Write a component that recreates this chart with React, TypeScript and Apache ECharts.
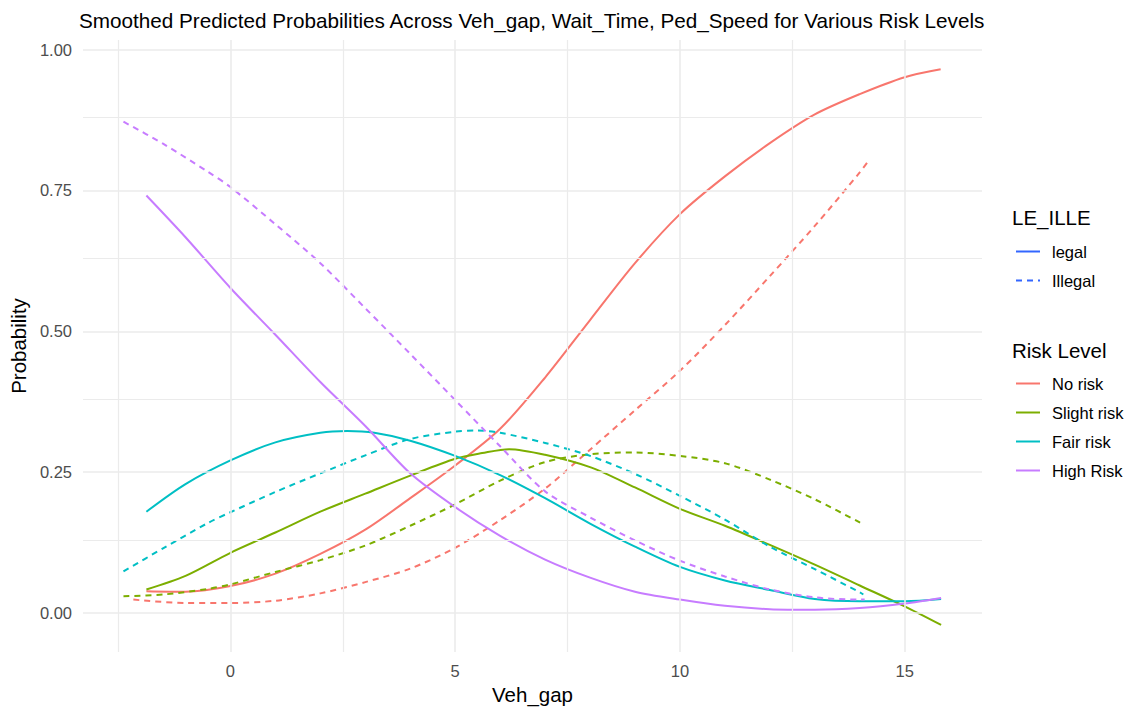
import React, { useEffect, useRef } from "react";
import * as echarts from "echarts";

// Smoothed predicted probabilities (loess-style curves) by vehicle gap.
// Each curve: [Veh_gap, probability] samples.
const noRiskLegal: [number, number][] = [
  [-1.87, 0.039], [-1, 0.038], [0, 0.048], [1, 0.07], [2, 0.105], [3, 0.148],
  [4, 0.204], [5, 0.262], [6, 0.327], [7, 0.418], [8, 0.52], [9, 0.621],
  [10, 0.708], [11, 0.775], [12, 0.834], [13, 0.885], [14, 0.921], [15, 0.951],
  [15.8, 0.965],
];
const noRiskIllegal: [number, number][] = [
  [-2.16, 0.024], [-1, 0.018], [0, 0.018], [1, 0.022], [2, 0.035], [3, 0.055],
  [4, 0.079], [5, 0.116], [6, 0.165], [7, 0.221], [8, 0.29], [9, 0.36],
  [10, 0.43], [11, 0.511], [12, 0.598], [13, 0.687], [14, 0.782], [14.17, 0.8],
];
const slightLegal: [number, number][] = [
  [-1.87, 0.042], [-1, 0.066], [0, 0.107], [1, 0.143], [2, 0.18], [3, 0.212],
  [4, 0.244], [5, 0.274], [5.6, 0.284], [6.2, 0.291], [7, 0.281], [8, 0.259],
  [9, 0.223], [10, 0.185], [11, 0.155], [12, 0.121], [13, 0.086], [14, 0.049],
  [15, 0.012], [15.81, -0.021],
];
const slightIllegal: [number, number][] = [
  [-2.38, 0.03], [-1.5, 0.033], [-0.5, 0.043], [0, 0.051], [1, 0.073], [2, 0.094],
  [3, 0.12], [4, 0.155], [5, 0.193], [6, 0.235], [7, 0.268], [8, 0.282],
  [9, 0.285], [10, 0.279], [11, 0.266], [12, 0.237], [13, 0.202], [14, 0.161],
  [14.08, 0.158],
];
const fairLegal: [number, number][] = [
  [-1.87, 0.18], [-1, 0.229], [0, 0.271], [1, 0.303], [2, 0.32], [2.6, 0.323],
  [3.2, 0.32], [4, 0.306], [5, 0.279], [6, 0.245], [7, 0.204], [8, 0.159],
  [9, 0.118], [10, 0.082], [11, 0.058], [12, 0.041], [13, 0.025], [14, 0.021],
  [15, 0.021], [15.81, 0.025],
];
const fairIllegal: [number, number][] = [
  [-2.38, 0.074], [-1.5, 0.115], [-0.5, 0.16], [0, 0.179], [1, 0.215], [2, 0.248],
  [3, 0.28], [4, 0.309], [5, 0.322], [5.5, 0.324], [6, 0.32], [7, 0.302],
  [8, 0.279], [9, 0.247], [10, 0.208], [11, 0.166], [12, 0.118], [13, 0.078],
  [14, 0.037], [14.08, 0.033],
];
const highLegal: [number, number][] = [
  [-1.87, 0.741], [-1, 0.667], [0, 0.577], [1, 0.494], [2, 0.41], [3, 0.332],
  [4, 0.248], [5, 0.188], [6, 0.137], [7, 0.095], [8, 0.063], [9, 0.038],
  [10, 0.024], [11, 0.013], [12, 0.007], [13, 0.006], [14, 0.009], [15, 0.017],
  [15.81, 0.027],
];
const highIllegal: [number, number][] = [
  [-2.38, 0.872], [-1.5, 0.833], [-0.5, 0.783], [0, 0.756], [1, 0.69], [2, 0.621],
  [3, 0.541], [4, 0.46], [5, 0.378], [6, 0.296], [7, 0.216], [8, 0.17],
  [9, 0.129], [10, 0.093], [11, 0.065], [12, 0.042], [13, 0.028], [14, 0.024],
  [14.11, 0.024],
];

const riskLevels = ["No risk", "Slight risk", "Fair risk", "High Risk"];
const legalityLevels = ["legal", "Illegal"];

const xTicks = [0, 5, 10, 15];
const xMinorGrid = [-2.5, 2.5, 7.5, 12.5];
const yTicks = [0, 0.25, 0.5, 0.75, 1];
const yMinorGrid = [0.125, 0.375, 0.625, 0.875];

const X_MIN = -3.28;
const X_MAX = 16.72;
const Y_MIN = -0.069;
const Y_MAX = 1.017;

const FONT = "'Liberation Sans', Arial, Helvetica, sans-serif";
const PALETTE = ["#F8766D", "#7CAE00", "#00BFC4", "#C77CFF"];
const LEGEND_BLUE = "#3366FF";
const DASH = [6, 5];

const curveSets: { risk: number; legal: boolean; data: [number, number][] }[] = [
  { risk: 0, legal: true, data: noRiskLegal },
  { risk: 0, legal: false, data: noRiskIllegal },
  { risk: 1, legal: true, data: slightLegal },
  { risk: 1, legal: false, data: slightIllegal },
  { risk: 2, legal: true, data: fairLegal },
  { risk: 2, legal: false, data: fairIllegal },
  { risk: 3, legal: true, data: highLegal },
  { risk: 3, legal: false, data: highIllegal },
];

export default function App() {
  const ref = useRef<HTMLDivElement>(null);

  useEffect(() => {
    if (!ref.current) return;
    const chart = echarts.init(ref.current, undefined, { renderer: "svg" });

    const gridSeries = (values: { xAxis?: number; yAxis?: number }[], width: number) => ({
      type: "line",
      data: [],
      silent: true,
      z: 1,
      markLine: {
        silent: true,
        animation: false,
        symbol: ["none", "none"],
        label: { show: false },
        emphasis: { disabled: true },
        lineStyle: { color: "#EBEBEB", width, type: "solid" },
        data: values,
      },
    });

    const curveSeries = curveSets.map((c) => ({
      name: `${riskLevels[c.risk]} (${c.legal ? "legal" : "Illegal"})`,
      type: "line",
      data: c.data,
      smooth: 0.3,
      symbol: "none",
      z: 3,
      lineStyle: {
        color: PALETTE[c.risk],
        width: 2,
        type: c.legal ? "solid" : DASH,
      },
      itemStyle: { color: PALETTE[c.risk] },
      emphasis: { disabled: true },
    }));

    const legalityKeys = legalityLevels.map((name, i) => ({
      name,
      type: "line",
      data: [],
      symbol: "none",
      lineStyle: { color: LEGEND_BLUE, width: 2, type: i === 0 ? "solid" : DASH },
      itemStyle: { color: LEGEND_BLUE },
    }));

    const riskKeys = riskLevels.map((name, i) => ({
      name,
      type: "line",
      data: [],
      symbol: "none",
      lineStyle: { color: PALETTE[i], width: 2, type: "solid" },
      itemStyle: { color: PALETTE[i] },
    }));

    const legendBase = {
      orient: "vertical",
      left: 1015,
      padding: 0,
      itemWidth: 24,
      itemHeight: 18,
      itemGap: 12,
      selectedMode: false,
      itemStyle: { opacity: 0 },
      textStyle: { fontFamily: FONT, fontSize: 16.5, color: "#000", padding: [0, 0, 0, 7] },
    };

    const titleStyle = { fontFamily: FONT, fontSize: 20.5, fontWeight: "normal", color: "#000" };

    chart.setOption({
      animation: false,
      backgroundColor: "#FFFFFF",
      title: [
        {
          text: "Smoothed Predicted Probabilities Across Veh_gap, Wait_Time, Ped_Speed for Various Risk Levels",
          left: 79,
          top: 10,
          padding: 0,
          textStyle: { ...titleStyle, fontSize: 20.7 },
        },
        { text: "LE_ILLE", left: 1012, top: 207, padding: 0, textStyle: titleStyle },
        { text: "Risk Level", left: 1012, top: 339.5, padding: 0, textStyle: titleStyle },
      ],
      legend: [
        {
          ...legendBase,
          top: 243,
          data: legalityLevels.map((name, i) => ({
            name,
            lineStyle: { color: LEGEND_BLUE, width: 2, type: i === 0 ? "solid" : DASH },
          })),
        },
        {
          ...legendBase,
          top: 375,
          data: riskLevels.map((name, i) => ({
            name,
            lineStyle: { color: PALETTE[i], width: 2, type: "solid" },
          })),
        },
      ],
      grid: { left: 79, right: 157, top: 40, bottom: 59, containLabel: false },
      xAxis: {
        type: "value",
        min: X_MIN,
        max: X_MAX,
        name: "Veh_gap",
        nameLocation: "middle",
        nameGap: 29,
        nameTextStyle: { fontFamily: FONT, fontSize: 20.5, color: "#000" },
        axisLine: { show: false },
        axisTick: { show: false },
        splitLine: { show: false },
        axisLabel: {
          customValues: xTicks,
          formatter: (v: number) => String(v),
          fontFamily: FONT,
          fontSize: 16.5,
          color: "#4D4D4D",
          margin: 10,
        },
      },
      yAxis: {
        type: "value",
        min: Y_MIN,
        max: Y_MAX,
        name: "Probability",
        nameLocation: "middle",
        nameGap: 46,
        nameTextStyle: { fontFamily: FONT, fontSize: 20.5, color: "#000" },
        axisLine: { show: false },
        axisTick: { show: false },
        splitLine: { show: false },
        axisLabel: {
          customValues: yTicks,
          formatter: (v: number) => v.toFixed(2),
          fontFamily: FONT,
          fontSize: 16.5,
          color: "#4D4D4D",
          margin: 11,
        },
      },
      series: [
        gridSeries([...xMinorGrid.map((v) => ({ xAxis: v })), ...yMinorGrid.map((v) => ({ yAxis: v }))], 1.2),
        gridSeries([...xTicks.map((v) => ({ xAxis: v })), ...yTicks.map((v) => ({ yAxis: v }))], 1.6),
        ...curveSeries,
        ...legalityKeys,
        ...riskKeys,
      ],
    });

    return () => chart.dispose();
  }, []);

  return (
    <div
      ref={ref}
      style={{ position: "absolute", left: 0, top: 0, width: 1139, height: 711, background: "#FFFFFF" }}
    />
  );
}
